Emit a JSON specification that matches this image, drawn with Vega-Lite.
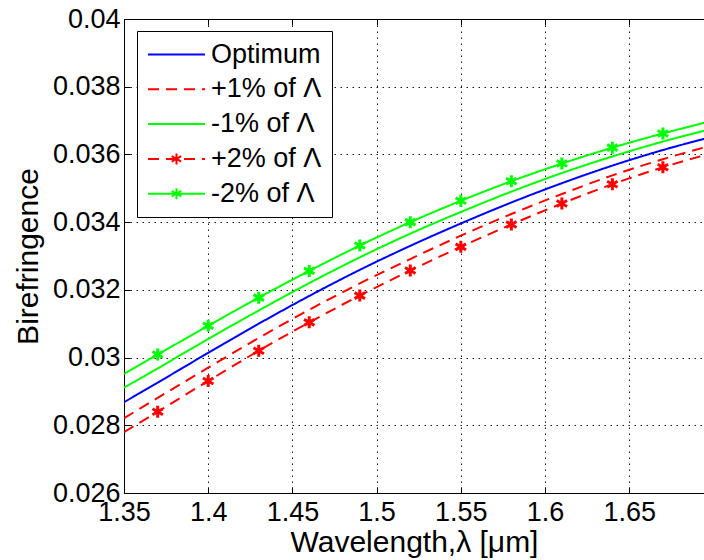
{
  "$schema": "https://vega.github.io/schema/vega-lite/v6.json",
  "width": 580,
  "height": 474,
  "autosize": {"type": "none"},
  "padding": {"left": 124, "top": 19, "right": 0, "bottom": 67},
  "background": "white",
  "config": {
    "view": {"stroke": "black", "strokeWidth": 1},
    "font": "Liberation Sans",
    "axis": {
      "labelFont": "Liberation Sans",
      "labelFontSize": 27,
      "labelColor": "black",
      "labelFlush": false,
      "titleFont": "Liberation Sans",
      "titleFontSize": 30,
      "titleFontWeight": "normal",
      "titleColor": "black",
      "domainColor": "black",
      "domainWidth": 1,
      "tickColor": "black",
      "tickWidth": 1,
      "tickSize": -6,
      "gridColor": "black",
      "gridDash": [1.5, 4.5],
      "gridWidth": 1,
      "gridOpacity": 0.9
    },
    "legend": {
      "title": null,
      "orient": "none",
      "legendX": 13,
      "legendY": 12,
      "fillColor": "white",
      "strokeColor": "black",
      "padding": 10,
      "labelFont": "Liberation Sans",
      "labelFontSize": 27,
      "labelColor": "black",
      "labelLimit": 0,
      "symbolSize": 400,
      "symbolStrokeWidth": 2,
      "symbolOffset": 16,
      "labelOffset": 21,
      "rowPadding": 6.8,
      "symbolType": "M-2.85,0L2.85,0"
    }
  },
  "data": {
    "values": [
      {"x": 1.35, "y": 0.02952, "s": "-2% of Λ"},
      {"x": 1.37, "y": 0.03009, "s": "-2% of Λ"},
      {"x": 1.40, "y": 0.03094, "s": "-2% of Λ"},
      {"x": 1.43, "y": 0.03177, "s": "-2% of Λ"},
      {"x": 1.46, "y": 0.03256, "s": "-2% of Λ"},
      {"x": 1.49, "y": 0.03331, "s": "-2% of Λ"},
      {"x": 1.52, "y": 0.03400, "s": "-2% of Λ"},
      {"x": 1.55, "y": 0.03463, "s": "-2% of Λ"},
      {"x": 1.58, "y": 0.03521, "s": "-2% of Λ"},
      {"x": 1.61, "y": 0.03573, "s": "-2% of Λ"},
      {"x": 1.64, "y": 0.03620, "s": "-2% of Λ"},
      {"x": 1.67, "y": 0.03662, "s": "-2% of Λ"},
      {"x": 1.70, "y": 0.03700, "s": "-2% of Λ"},
      {"x": 1.35, "y": 0.02911, "s": "-1% of Λ"},
      {"x": 1.37, "y": 0.02968, "s": "-1% of Λ"},
      {"x": 1.40, "y": 0.03055, "s": "-1% of Λ"},
      {"x": 1.43, "y": 0.03139, "s": "-1% of Λ"},
      {"x": 1.46, "y": 0.03220, "s": "-1% of Λ"},
      {"x": 1.49, "y": 0.03296, "s": "-1% of Λ"},
      {"x": 1.52, "y": 0.03366, "s": "-1% of Λ"},
      {"x": 1.55, "y": 0.03430, "s": "-1% of Λ"},
      {"x": 1.58, "y": 0.03490, "s": "-1% of Λ"},
      {"x": 1.61, "y": 0.03545, "s": "-1% of Λ"},
      {"x": 1.64, "y": 0.03594, "s": "-1% of Λ"},
      {"x": 1.67, "y": 0.03638, "s": "-1% of Λ"},
      {"x": 1.70, "y": 0.03677, "s": "-1% of Λ"},
      {"x": 1.35, "y": 0.02868, "s": "Optimum"},
      {"x": 1.37, "y": 0.02926, "s": "Optimum"},
      {"x": 1.40, "y": 0.03014, "s": "Optimum"},
      {"x": 1.43, "y": 0.03100, "s": "Optimum"},
      {"x": 1.46, "y": 0.03182, "s": "Optimum"},
      {"x": 1.49, "y": 0.03259, "s": "Optimum"},
      {"x": 1.52, "y": 0.03330, "s": "Optimum"},
      {"x": 1.55, "y": 0.03396, "s": "Optimum"},
      {"x": 1.58, "y": 0.03458, "s": "Optimum"},
      {"x": 1.61, "y": 0.03515, "s": "Optimum"},
      {"x": 1.64, "y": 0.03567, "s": "Optimum"},
      {"x": 1.67, "y": 0.03613, "s": "Optimum"},
      {"x": 1.70, "y": 0.03653, "s": "Optimum"},
      {"x": 1.35, "y": 0.02821, "s": "+1% of Λ"},
      {"x": 1.37, "y": 0.02881, "s": "+1% of Λ"},
      {"x": 1.40, "y": 0.02970, "s": "+1% of Λ"},
      {"x": 1.43, "y": 0.03058, "s": "+1% of Λ"},
      {"x": 1.46, "y": 0.03141, "s": "+1% of Λ"},
      {"x": 1.49, "y": 0.03219, "s": "+1% of Λ"},
      {"x": 1.52, "y": 0.03291, "s": "+1% of Λ"},
      {"x": 1.55, "y": 0.03360, "s": "+1% of Λ"},
      {"x": 1.58, "y": 0.03424, "s": "+1% of Λ"},
      {"x": 1.61, "y": 0.03483, "s": "+1% of Λ"},
      {"x": 1.64, "y": 0.03538, "s": "+1% of Λ"},
      {"x": 1.67, "y": 0.03586, "s": "+1% of Λ"},
      {"x": 1.70, "y": 0.03628, "s": "+1% of Λ"},
      {"x": 1.35, "y": 0.02780, "s": "+2% of Λ"},
      {"x": 1.37, "y": 0.02840, "s": "+2% of Λ"},
      {"x": 1.40, "y": 0.02931, "s": "+2% of Λ"},
      {"x": 1.43, "y": 0.03020, "s": "+2% of Λ"},
      {"x": 1.46, "y": 0.03104, "s": "+2% of Λ"},
      {"x": 1.49, "y": 0.03183, "s": "+2% of Λ"},
      {"x": 1.52, "y": 0.03257, "s": "+2% of Λ"},
      {"x": 1.55, "y": 0.03327, "s": "+2% of Λ"},
      {"x": 1.58, "y": 0.03393, "s": "+2% of Λ"},
      {"x": 1.61, "y": 0.03455, "s": "+2% of Λ"},
      {"x": 1.64, "y": 0.03512, "s": "+2% of Λ"},
      {"x": 1.67, "y": 0.03562, "s": "+2% of Λ"},
      {"x": 1.70, "y": 0.03605, "s": "+2% of Λ"}
    ]
  },
  "layer": [
    {
      "mark": {"type": "line", "strokeWidth": 2, "interpolate": "monotone", "clip": true},
      "encoding": {
        "x": {
          "field": "x", "type": "quantitative",
          "scale": {"domain": [1.35, 1.6944], "nice": false, "zero": false},
          "axis": {
            "values": [1.35, 1.4, 1.45, 1.5, 1.55, 1.6, 1.65],
            "format": "~g",
            "grid": true,
            "labelPadding": 12,
            "title": "Wavelength,λ [μm]",
            "titlePadding": 2
          }
        },
        "y": {
          "field": "y", "type": "quantitative",
          "scale": {"domain": [0.026, 0.04], "nice": false, "zero": false},
          "axis": {
            "values": [0.026, 0.028, 0.03, 0.032, 0.034, 0.036, 0.038, 0.04],
            "format": "~g",
            "grid": true,
            "labelPadding": 10,
            "title": "Birefringence",
            "titlePadding": 9
          }
        },
        "color": {
          "field": "s", "type": "nominal",
          "scale": {
            "domain": ["Optimum", "+1% of Λ", "-1% of Λ", "+2% of Λ", "-2% of Λ"],
            "range": ["#0000ff", "#ff0000", "#00ff00", "#ff0000", "#00ff00"]
          },
          "legend": {
            "encode": {
              "symbols": {
                "update": {
                  "shape": {"signal": "indexof(datum.value, '2%') >= 0 ? 'M-2.85,0L2.85,0M0,-0.55L0,0.55M-0.48,-0.28L0.48,0.28M-0.48,0.28L0.48,-0.28' : 'M-2.85,0L2.85,0'"}
                }
              }
            }
          }
        },
        "strokeDash": {
          "field": "s", "type": "nominal",
          "scale": {
            "domain": ["Optimum", "+1% of Λ", "-1% of Λ", "+2% of Λ", "-2% of Λ"],
            "range": [[1, 0], [11, 7], [1, 0], [11, 7], [1, 0]]
          }
        }
      }
    },
    {
      "transform": [
        {"filter": {"field": "s", "oneOf": ["+2% of Λ", "-2% of Λ"]}},
        {"filter": {"field": "x", "range": [1.365, 1.675]}}
      ],
      "mark": {
        "type": "point",
        "shape": "M0,-1L0,1M-0.87,-0.5L0.87,0.5M-0.87,0.5L0.87,-0.5",
        "filled": false,
        "size": 144,
        "strokeWidth": 3,
        "opacity": 1,
        "clip": true
      },
      "encoding": {
        "x": {
          "field": "x", "type": "quantitative",
          "axis": {
            "orient": "top",
            "values": [1.35, 1.4, 1.45, 1.5, 1.55, 1.6, 1.65],
            "labels": false,
            "grid": false,
            "title": null
          }
        },
        "y": {"field": "y", "type": "quantitative"},
        "stroke": {
          "field": "s", "type": "nominal",
          "scale": {"domain": ["+2% of Λ", "-2% of Λ"], "range": ["#ff0000", "#00ff00"]},
          "legend": null
        }
      }
    }
  ],
  "resolve": {"axis": {"x": "independent"}}
}
